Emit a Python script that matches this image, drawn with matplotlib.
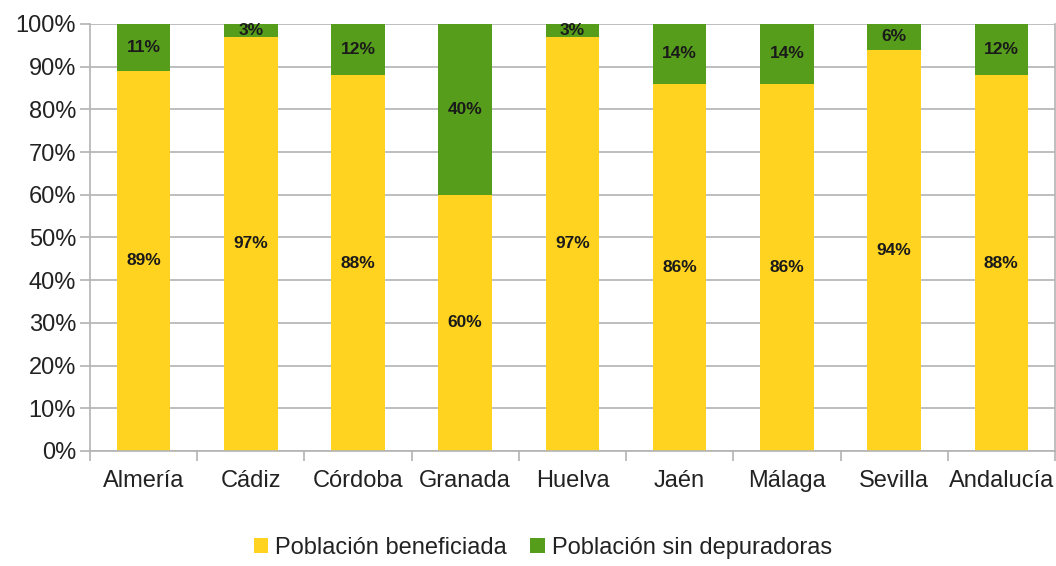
import numpy as np
import matplotlib
matplotlib.use("Agg")
import matplotlib.pyplot as plt
from matplotlib.ticker import FixedLocator, PercentFormatter

# data
provincias = ["Almería", "Cádiz", "Córdoba", "Granada", "Huelva",
              "Jaén", "Málaga", "Sevilla", "Andalucía"]
beneficiada = [89, 97, 88, 60, 97, 86, 86, 94, 88]
sin_depuradoras = [11, 3, 12, 40, 3, 14, 14, 6, 12]

yellow = "#FFD320"
green = "#579D1C"
grid_grey = "#B3B3B3"

plt.rcParams["font.family"] = ["Liberation Sans", "DejaVu Sans"]

fig = plt.figure(figsize=(10.56, 5.66), dpi=100)
ax = fig.add_axes([0.0852, 0.2032, 0.9138, 0.7544])

x = np.arange(len(provincias))
b1 = ax.bar(x, beneficiada, width=0.5, color=yellow, label="Población beneficiada", zorder=2)
b2 = ax.bar(x, sin_depuradoras, width=0.5, bottom=beneficiada, color=green,
            label="Población sin depuradoras", zorder=2)

for xi, v in zip(x, beneficiada):
    ax.text(xi, v / 2, f"{v}%", ha="center", va="center", fontsize=12.5,
            fontweight="bold", color="#1a1a1a", zorder=3)
for xi, v, s in zip(x, beneficiada, sin_depuradoras):
    ax.text(xi, v + s / 2, f"{s}%", ha="center", va="center", fontsize=12.5,
            fontweight="bold", color="#1a1a1a", zorder=3)

ax.set_xlim(-0.5, len(provincias) - 0.5)
ax.set_ylim(0, 100)
ax.set_yticks(np.arange(0, 101, 10))
ax.yaxis.set_major_formatter(PercentFormatter(decimals=0))
ax.yaxis.grid(True, color=grid_grey, linewidth=1.2, zorder=0)
ax.set_axisbelow(True)

ax.set_xticks(x)
ax.set_xticklabels(provincias)
ax.xaxis.set_minor_locator(FixedLocator(np.arange(-0.5, len(provincias), 1.0)))
ax.tick_params(axis="x", which="major", length=0, pad=14, labelsize=17, labelcolor="#222222")
ax.tick_params(axis="x", which="minor", length=7, color=grid_grey, width=1.2)
ax.tick_params(axis="y", length=7, color=grid_grey, width=1.2, labelsize=17,
               labelcolor="#222222", pad=3)

for side in ["left", "bottom", "right", "top"]:
    ax.spines[side].set_color(grid_grey)
    ax.spines[side].set_linewidth(1.2)
ax.spines["top"].set_visible(False)

fig.legend(handles=[b1, b2], loc="center", bbox_to_anchor=(0.514, 0.032), ncol=2,
           frameon=False, fontsize=17, handlelength=0.6, handleheight=0.6,
           handletextpad=0.3, columnspacing=1.0, labelcolor="#222222")

fig.savefig("out.png", dpi=100)
